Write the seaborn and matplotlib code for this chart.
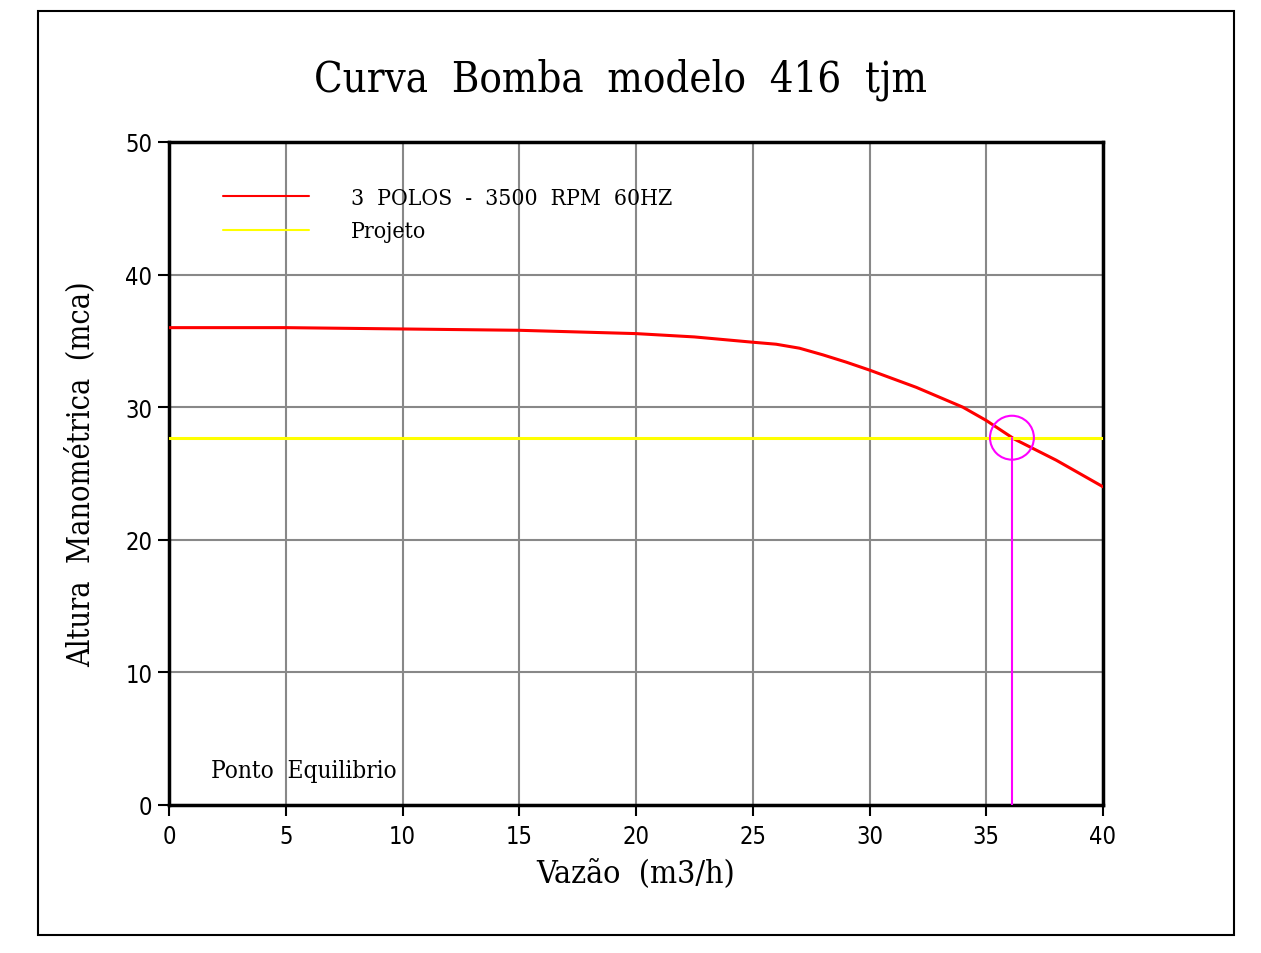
import numpy as np
import pandas as pd
import matplotlib
matplotlib.use("Agg")
import matplotlib.pyplot as plt
import seaborn as sns
from matplotlib.patches import Rectangle

# Curva da bomba
vazao = [0, 5, 10, 15, 20, 22.5, 25, 26, 27, 28, 29, 30, 32, 34, 35, 36.2, 38, 40]
altura = [36.0, 36.0, 35.9, 35.8, 35.55, 35.3, 34.9, 34.75, 34.45, 33.95, 33.4, 32.8, 31.5, 30.0, 29.0, 27.6, 26.0, 24.0]

# Linha de projeto
proj_x = [0, 40]
proj_y = [27.7, 27.7]

# Ponto de equilíbrio
eq_x = 36.1
eq_y = 27.7

xticks = [0, 5, 10, 15, 20, 25, 30, 35, 40]
yticks = [0, 10, 20, 30, 40, 50]

sns.set_style("white")
plt.rcParams['font.family'] = ["DejaVu Serif"]
plt.rcParams['font.stretch'] = 'condensed'
for k in ['text.color', 'axes.labelcolor', 'xtick.color', 'ytick.color']:
    plt.rcParams[k] = 'black'

fig = plt.figure(figsize=(12.61, 9.54), dpi=100)
ax = fig.add_axes([169 / 1261, 1 - 806 / 954, (1103 - 169) / 1261, (806 - 143) / 954])

curva = pd.DataFrame({'Vazao': vazao, 'Altura': altura})
projeto = pd.DataFrame({'Vazao': proj_x, 'Altura': proj_y})

sns.lineplot(data=curva, x='Vazao', y='Altura', color='red', lw=2.2, ax=ax, zorder=3)
sns.lineplot(data=projeto, x='Vazao', y='Altura', color='yellow', lw=2.2, ax=ax, zorder=3)

# ponto de equilíbrio
ax.plot([eq_x, eq_x], [0, eq_y], color='magenta', lw=1.5, zorder=4)
ax.scatter([eq_x], [eq_y], s=1000, facecolors='none', edgecolors='magenta', linewidths=1.5, zorder=5)

ax.set_xlim(0, 40)
ax.set_ylim(0, 50)
ax.set_xticks(xticks)
ax.set_yticks(yticks)
ax.grid(True, color='#888888', lw=1.5)
ax.set_axisbelow(True)
for s in ax.spines.values():
    s.set_color('black')
    s.set_linewidth(2.5)
ax.tick_params(axis='both', direction='out', length=8, width=1.5, labelsize=17, pad=4,
               bottom=True, left=True)
ax.tick_params(axis='x', pad=6)
for lbl in ax.get_xticklabels() + ax.get_yticklabels():
    lbl.set_family('DejaVu Sans')
    lbl.set_stretch('condensed')

ax.set_xlabel('Vazão  (m3/h)', fontsize=23, labelpad=6)
ax.set_ylabel('Altura  Manométrica  (mca)', fontsize=22, labelpad=21)

# legenda manual
ax.plot([2.3, 6.0], [45.9, 45.9], color='red', lw=1.5)
ax.plot([2.3, 6.0], [43.4, 43.4], color='yellow', lw=1.5)
ax.text(7.8, 45.8, '3  POLOS  -  3500  RPM  60HZ', fontsize=16.5, va='center')
ax.text(7.8, 43.3, 'Projeto', fontsize=16.5, va='center')

ax.text(1.8, 2.6, 'Ponto  Equilibrio', fontsize=17.5, va='center')

fig.text(621 / 1261, 1 - 80 / 954, 'Curva  Bomba  modelo  416  tjm', fontsize=30,
         ha='center', va='center')

fig.patches.append(Rectangle((38 / 1261, 1 - 936 / 954), (1234 - 38) / 1261, (936 - 12) / 954,
                             transform=fig.transFigure, fill=False, edgecolor='black', lw=1.5))

fig.savefig('out.png', dpi=100, facecolor='white')
